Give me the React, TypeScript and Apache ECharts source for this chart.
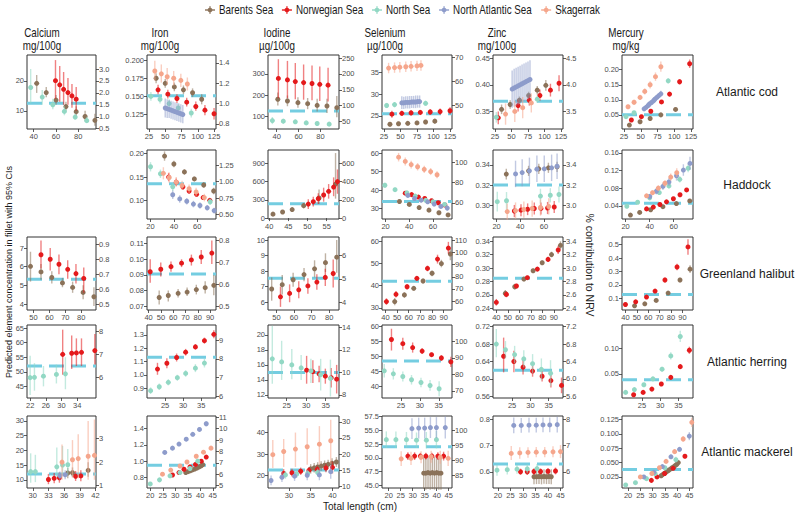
import React, { useEffect, useRef } from "react";
import * as echarts from "echarts";

// ---------- categories ----------
const SEAS = ["Barents Sea", "Norwegian Sea", "North Sea", "North Atlantic Sea", "Skagerrak"];
const SEA_COLORS = ["#8B7259", "#E41A1C", "#92D8C4", "#8E9CCB", "#F5A68C"];
const NRV_COLOR = "#74CDE1";
const ELEMENTS = ["Calcium", "Iron", "Iodine", "Selenium", "Zinc", "Mercury"];
const UNITS = ["mg/100g", "mg/100g", "µg/100g", "µg/100g", "mg/100g", "mg/kg"];
const SPECIES = ["Atlantic cod", "Haddock", "Greenland halibut", "Atlantic herring", "Atlantic mackerel"];

// ---------- predictions: [length, estimate, lower CI, upper CI] ----------
// Atlantic cod
const codCaBS = [[42.7,19.2,16,22],[51.3,16.1,14.5,18],[60.1,13.6,12,15.3],[69,11.4,10,13],[78.2,9.7,8,11.5],[86.2,8.1,6.5,10],[95,6.8,5,9]];
const codCaNO = [[59.6,20.1,14,27],[63.4,18.7,13,25],[66.9,17.2,12,23],[70.8,16.1,12,21],[74.4,15,11,19],[78.2,13.9,10,18]];
const codCaNS = [[37.3,17.8,12.5,24],[47.7,14.6,12,17],[57.2,12,10.5,14],[67.6,9.8,8.5,11.5],[77.3,7.9,7,9],[87.7,6.7,6,8]];

const codFeBS = [[36,0.175,0.168,0.182],[50,0.168,0.162,0.174],[64,0.163,0.157,0.169],[78,0.159,0.153,0.165],[92,0.155,0.149,0.161],[106,0.146,0.139,0.153]];
const codFeNO = [[39,0.159,0.153,0.166],[54,0.153,0.147,0.159],[68,0.147,0.141,0.153],[83,0.142,0.136,0.148],[97,0.136,0.130,0.143],[111,0.131,0.124,0.138],[125,0.126,0.118,0.134]];
const codFeNS = [[28,0.150,0.144,0.156],[42,0.146,0.140,0.152],[56,0.140,0.134,0.146],[70,0.134,0.128,0.140],[90,0.127,0.121,0.133]];
const codFeNA = [[50,0.134,0.121,0.147],[53,0.133,0.120,0.146],[56,0.132,0.120,0.145],[59,0.131,0.119,0.144],[62,0.130,0.118,0.143],[65,0.129,0.117,0.142],[68,0.128,0.116,0.141],[71,0.127,0.115,0.140],[74,0.126,0.114,0.139],[77,0.125,0.113,0.138]];
const codFeSK = [[34,0.185,0.172,0.199],[44,0.181,0.169,0.194],[53,0.177,0.166,0.189],[63,0.175,0.165,0.185],[74,0.172,0.163,0.181],[84,0.167,0.158,0.176]];

const codIBS = [[41,180,150,212],[49.8,172,147,198],[59.4,164,140,190],[68.3,159,133,186],[77,151,122,182],[86,148,115,182],[95,140,95,195]];
const codINO = [[41.5,279,185,370],[49.8,272,185,362],[57,264,180,352],[64.6,259,178,345],[72.3,255,175,340],[79.4,251,172,335],[87,247,170,330]];
const codINS = [[36,79,62,96],[46,76,64,88],[57,73,63,83],[67,68,60,77],[77,65,58,72],[88,62,55,70]];

const codSeBS = [[34,23.1,22.6,23.6],[47,23.2,22.7,23.7],[61,23.3,22.8,23.8],[75,23.4,22.9,23.9],[88,23.6,23.1,24.1],[102,23.8,23.2,24.4]];
const codSeNO = [[37,25.4,24.6,26.2],[52,25.6,25.0,26.2],[66,25.7,25.1,26.3],[80,25.8,25.2,26.4],[95,25.9,25.2,26.6],[110,26.0,25.3,26.7],[125,26.2,25.4,27.0]];
const codSeNS = [[29,27.4,26.8,28.0],[41,27.6,27.0,28.2],[88,27.9,27.3,28.5]];
const codSeNA = [[52,28.0,26.6,29.5],[55,28.0,26.6,29.4],[58,28.1,26.7,29.5],[61,28.1,26.7,29.5],[64,28.1,26.7,29.6],[67,28.2,26.8,29.6],[70,28.2,26.8,29.6],[73,28.2,26.8,29.7],[76,28.3,26.9,29.7],[79,28.3,26.9,29.7]];
const codSeSK = [[32,36.0,34.8,37.2],[41,36.1,34.9,37.3],[49,36.2,35.0,37.4],[58,36.3,35.1,37.5],[66,36.4,35.2,37.6],[75,36.5,35.3,37.7],[81,36.6,35.4,37.8]];

const codZnBS = [[35,0.354,0.345,0.363],[48,0.363,0.355,0.371],[62,0.371,0.364,0.378],[76,0.380,0.373,0.387],[89,0.390,0.382,0.398],[102,0.399,0.389,0.409]];
const codZnNO = [[30,0.338,0.326,0.350],[60,0.361,0.350,0.372],[77,0.371,0.361,0.381],[93,0.380,0.370,0.391],[109,0.390,0.378,0.402],[122,0.403,0.388,0.418]];
const codZnNS = [[27,0.339,0.329,0.349],[89,0.373,0.366,0.380]];
const codZnNA = [[51,0.392,0.357,0.427],[54,0.394,0.359,0.430],[57,0.396,0.361,0.432],[60,0.398,0.363,0.434],[63,0.400,0.365,0.436],[66,0.402,0.367,0.438],[69,0.404,0.369,0.440],[72,0.406,0.371,0.442],[75,0.408,0.373,0.444],[78,0.410,0.375,0.446]];
const codZnSK = [[41,0.345,0.325,0.365],[55,0.350,0.330,0.370],[67,0.357,0.337,0.377],[80,0.366,0.348,0.384]];

const codHgBS = [[33,0.016,0.013,0.019],[49,0.027,0.024,0.030],[64,0.038,0.034,0.042],[80,0.050,0.046,0.054],[102,0.068,0.063,0.073]];
const codHgNO = [[36,0.033,0.029,0.037],[51,0.044,0.040,0.048],[65,0.062,0.057,0.067],[81,0.093,0.087,0.099],[93,0.119,0.112,0.126],[108,0.160,0.151,0.169],[123,0.220,0.206,0.234]];
const codHgNS = [[28,0.044,0.039,0.049],[40,0.057,0.051,0.063],[91,0.163,0.155,0.171]];
const codHgNA = [[55,0.070,0.062,0.078],[58,0.075,0.067,0.083],[61,0.081,0.073,0.089],[63,0.086,0.078,0.094],[66,0.091,0.083,0.099],[69,0.097,0.088,0.106],[71,0.102,0.093,0.111],[74,0.108,0.099,0.117],[77,0.114,0.105,0.123],[80,0.120,0.110,0.130]];
const codHgSK = [[31,0.077,0.070,0.084],[40,0.092,0.084,0.100],[49,0.108,0.099,0.117],[56,0.128,0.118,0.138],[64,0.150,0.138,0.162],[72,0.177,0.163,0.191],[80,0.210,0.193,0.227]];

// Haddock
const hadFeBS = [[32,0.195,0.185,0.205],[40,0.178,0.171,0.185],[49,0.161,0.155,0.167],[57.5,0.146,0.141,0.151],[65.5,0.133,0.127,0.139],[74,0.120,0.113,0.127]];
const hadFeNO = [[35.5,0.150,0.141,0.159],[42,0.139,0.131,0.147],[47.7,0.129,0.122,0.136],[53,0.120,0.114,0.126],[59.4,0.113,0.108,0.118],[65,0.106,0.101,0.111],[70.7,0.100,0.095,0.105]];
const hadFeNS = [[20,0.172,0.162,0.182],[28.5,0.157,0.148,0.166],[39,0.129,0.120,0.138],[71,0.097,0.090,0.104]];
const hadFeNA = [[39,0.112,0.103,0.121],[45,0.103,0.095,0.111],[51,0.098,0.091,0.105],[56.7,0.092,0.085,0.099],[62.3,0.089,0.082,0.096],[68.5,0.084,0.078,0.090],[74.4,0.078,0.072,0.084]];
const hadFeSK = [[31,0.158,0.145,0.171],[36,0.149,0.138,0.160],[42,0.139,0.129,0.150],[47,0.132,0.122,0.142],[53,0.125,0.116,0.134],[59,0.118,0.109,0.127],[66,0.106,0.098,0.114]];

const hadIBS = [[41,65,45,90],[43.5,100,75,125],[46,140,110,170],[49,205,160,250],[53,330,230,470],[57.3,560,320,1070]];
const hadINO = [[50.2,230,150,310],[51.5,270,190,350],[52.8,320,230,410],[54.2,380,270,500],[55.5,440,320,560],[56.8,510,360,670],[57.8,600,400,800]];

const hadSeBS = [[31.7,33.8,33.1,34.5],[40,32.2,31.5,32.9],[48.3,30.5,29.8,31.2],[56.6,29.1,28.4,29.8],[65,27.7,27,28.4],[72.7,26.5,25.7,27.3]];
const hadSeNO = [[36.6,38.3,37.5,39.1],[42,37.5,36.8,38.2],[47.7,36.2,35.5,36.9],[53,35.4,34.7,36.1],[58.8,34.2,33.5,34.9],[64.4,33.1,32.4,33.8],[70,31.9,31.1,32.7]];
const hadSeNS = [[19.4,42.6,41.3,43.9],[28,40.2,39,41.4],[38,38.5,37.5,39.5],[45,36.7,35.7,37.7],[53.9,34.4,33.4,35.4],[60,33.6,32.5,34.7],[69.7,32.2,30.9,33.5]];
const hadSeNA = [[38.8,37.1,35.8,38.4],[44.4,35.4,34.2,36.6],[50,34.5,33.3,35.7],[55.5,33.6,32.4,34.8],[61,32.4,31.2,33.6],[66.6,31.1,29.9,32.3],[72,30.2,28.9,31.5]];
const hadSeSK = [[31,57.8,55.5,60.1],[36.6,55.5,53.3,57.7],[41.6,53.8,51.7,55.9],[47,52.6,50.6,54.6],[52.6,51.2,49.3,53.1],[58,50,48.1,51.9],[63.4,48.3,46.4,50.2]];

const hadZnBS = [[28.2,0.3308,0.3255,0.336],[47,0.334,0.329,0.339],[55.6,0.336,0.331,0.341],[63.7,0.337,0.332,0.342],[71,0.338,0.333,0.343]];
const hadZnNO = [[35,0.2946,0.2885,0.3005],[40.6,0.2954,0.2895,0.3013],[46.2,0.2963,0.2905,0.302],[51.8,0.297,0.2912,0.3028],[57.4,0.2971,0.2912,0.3029],[63,0.2975,0.2915,0.3035],[68.6,0.2985,0.2925,0.3045]];
const hadZnNS = [[20.6,0.3037,0.294,0.3135],[28.4,0.3046,0.296,0.3132],[57,0.3092,0.302,0.3164],[65.3,0.31,0.303,0.317],[72.6,0.3108,0.303,0.3186]];
const hadZnNA = [[36,0.331,0.318,0.344],[41.6,0.3323,0.319,0.3455],[47.7,0.334,0.321,0.347],[54,0.3357,0.323,0.349],[60.2,0.336,0.323,0.349],[66.4,0.337,0.324,0.35],[71,0.3385,0.326,0.351]];
const hadZnSK = [[29,0.294,0.286,0.302],[36,0.295,0.287,0.303],[43,0.296,0.288,0.304],[50,0.297,0.289,0.305],[57,0.298,0.29,0.306],[64,0.299,0.291,0.307]];

const hadHgBS = [[24,0.019,0.017,0.021],[31.7,0.025,0.023,0.027],[40.8,0.031,0.029,0.033],[51,0.038,0.036,0.040],[62.2,0.045,0.043,0.047],[73.3,0.051,0.049,0.053]];
const hadHgNO = [[37.4,0.033,0.031,0.035],[43,0.037,0.035,0.039],[48.5,0.043,0.041,0.045],[54,0.049,0.047,0.051],[59.7,0.056,0.054,0.058],[65.2,0.065,0.062,0.068],[70.7,0.076,0.073,0.079]];
const hadHgNS = [[21,0.039,0.036,0.042],[30,0.048,0.045,0.051],[40,0.058,0.054,0.062],[48,0.070,0.065,0.075],[56,0.085,0.079,0.091],[65,0.100,0.093,0.107],[72,0.125,0.116,0.134]];
const hadHgNA = [[40,0.061,0.055,0.067],[45.6,0.073,0.066,0.080],[51,0.084,0.076,0.092],[56,0.094,0.085,0.103],[62.3,0.108,0.097,0.119],[68,0.121,0.108,0.134],[73.5,0.136,0.121,0.151]];
const hadHgSK = [[37.4,0.0626,0.058,0.067],[42.4,0.0697,0.064,0.075],[47.2,0.080,0.074,0.086],[52.7,0.091,0.084,0.098],[57.5,0.105,0.097,0.113],[62.5,0.115,0.105,0.125]];

// Greenland halibut
const halCaBS = [[48.1,6.02,5.2,6.8],[54.7,5.72,5.3,6.15],[61.5,5.42,5.1,5.75],[68.2,5.13,4.9,5.4],[74.6,4.89,4.6,5.2],[81.2,4.62,4.25,5.0],[88,4.39,3.9,4.9]];
const halCaNO = [[54.7,6.64,5.9,7.4],[60.5,6.4,5.8,7.0],[66,6.13,5.6,6.65],[71.5,5.86,5.35,6.35],[76.7,5.63,5.1,6.15],[81.6,5.37,4.6,5.95]];

const halFeBS = [[48.6,0.0755,0.071,0.080],[56,0.0768,0.073,0.080],[64,0.0782,0.0755,0.081],[71.3,0.079,0.0765,0.082],[78.8,0.0806,0.0775,0.0837],[86,0.0818,0.078,0.086],[93,0.0833,0.077,0.090]];
const halFeNO = [[41.3,0.092,0.085,0.100],[49.9,0.0936,0.089,0.098],[58.2,0.0953,0.092,0.0986],[66.8,0.0975,0.095,0.100],[74.8,0.0996,0.096,0.103],[82.8,0.1015,0.097,0.106],[91.4,0.104,0.097,0.112]];

const halIBS = [[47.3,6.85,6.1,7.6],[53.3,7.13,6.5,7.75],[59.5,7.45,7.0,7.9],[65.7,7.78,7.35,8.2],[71.7,8.15,7.6,8.7],[77.9,8.55,7.95,9.15],[84.3,8.9,7.9,10.0]];
const halINO = [[52.3,6.35,5.7,7.0],[57.5,6.57,6.0,7.15],[62.7,6.8,6.25,7.35],[67.9,7.05,6.55,7.55],[73,7.3,6.8,7.8],[77.8,7.6,7.05,8.15],[82.3,7.85,6.95,8.75]];

const halSeBS = [[48,32.8,31.2,34.4],[56.3,35.8,34.5,37.1],[64.3,38.8,37.8,39.8],[72.3,42.1,41,43.2],[80,45.6,44.3,46.9],[88,50,48.3,51.7],[95.7,54.3,51.5,57.1]];
const halSeNO = [[40.9,32.8,31.3,34.3],[49.1,36.1,34.6,37.6],[58.6,39.5,38.3,40.7],[67,43.3,42.3,44.3],[76.1,47.8,46.5,49.1],[84.7,52,50,54],[94,57,54.5,59.8]];

const halZnBS = [[47.8,0.2623,0.257,0.2675],[56,0.2722,0.268,0.2765],[64,0.2836,0.2805,0.2867],[72,0.296,0.293,0.299],[79.9,0.308,0.3045,0.3115],[88,0.3202,0.316,0.3245],[95.8,0.334,0.328,0.340]];
const halZnNO = [[40,0.249,0.244,0.254],[48.8,0.2608,0.2565,0.265],[57.5,0.2733,0.270,0.2765],[67,0.2857,0.283,0.2885],[75.7,0.2985,0.2955,0.3015],[85,0.313,0.309,0.317],[93.8,0.327,0.321,0.333]];

const halHgBS = [[48,0.045,0.037,0.053],[57,0.06,0.052,0.068],[67,0.085,0.076,0.094],[77.5,0.14,0.128,0.152],[87.9,0.237,0.22,0.254],[96.7,0.318,0.29,0.346]];
const halHgNO = [[40,0.055,0.045,0.065],[49,0.075,0.064,0.086],[58.5,0.11,0.098,0.122],[66,0.155,0.143,0.167],[74.7,0.237,0.218,0.256],[85.3,0.334,0.31,0.358],[94.9,0.483,0.425,0.54]];

// Atlantic herring
const herCaNO = [[30.3,56,49,64.5],[32.6,56.4,51,62.5],[33.8,56.5,52,61.5],[35.1,56.7,52,61.5],[38.5,57.3,52.5,63]];
const herCaNS = [[22,48,42,55.5],[23.1,48.1,43.5,53],[25.4,48.5,45,52],[28.7,49.1,46,52.5],[31,49.3,44,55]];

const herFeNO = [[22.9,1.043,1.0,1.09],[25.5,1.087,1.05,1.125],[28.2,1.13,1.1,1.16],[30.7,1.17,1.145,1.195],[33.4,1.21,1.19,1.23],[35.9,1.257,1.235,1.28],[38.5,1.305,1.275,1.335]];
const herFeNS = [[21,0.88,0.855,0.905],[23.4,0.91,0.885,0.935],[25.9,0.943,0.92,0.966],[28.4,0.978,0.955,1.0],[30.7,1.01,0.985,1.035],[33.4,1.05,1.02,1.08],[35.9,1.088,1.055,1.12]];

const herINO = [[30.1,15.3,13.5,17.2],[31.7,15.1,13.6,16.6],[33.3,14.8,13.7,15.9],[34.9,14.5,13.5,15.5],[36.4,14.3,13,15.6],[37.8,14.1,12.2,16]];
const herINS = [[21.3,16.8,13.5,21.2],[23.7,16.4,14,19.2],[26.3,16,14.1,18.1],[28.7,15.6,14,17.3],[31.2,15.2,13.6,16.8],[33.7,14.7,12.6,16.8],[36.2,14.2,11.8,16.7]];

const herSeNO = [[22.5,55.7,52,59.3],[25.5,54.3,52.3,56.3],[28.1,53,51.3,54.7],[30.6,51.8,50.8,52.8],[33.1,50.6,49.9,51.3],[35.7,49.5,48.5,50.5],[38.2,48.2,46.5,49.9]];
const herSeNS = [[20.6,45.2,43,47.5],[23,44.2,42.3,46.1],[25.5,43.3,41.6,45],[27.8,42.2,40.6,43.8],[30.3,41.3,39.7,42.9],[32.7,40.3,38.5,42.1],[35.1,39.2,36.7,41.7]];

const herZnNO = [[22.7,0.652,0.615,0.695],[25.5,0.64,0.615,0.665],[28,0.627,0.61,0.644],[30.6,0.618,0.605,0.631],[33.2,0.606,0.594,0.618],[35.6,0.596,0.58,0.612],[38.5,0.585,0.567,0.603]];
const herZnNS = [[20.7,0.68,0.65,0.715],[23.2,0.667,0.647,0.687],[25.7,0.656,0.636,0.676],[28.2,0.646,0.626,0.666],[30.6,0.635,0.613,0.657],[33,0.622,0.597,0.647],[35.5,0.613,0.583,0.643]];

const herHgNO = [[22.7,0.009,0.007,0.011],[25.3,0.0136,0.011,0.016],[27.7,0.02,0.018,0.022],[30.3,0.03,0.027,0.033],[32.9,0.043,0.04,0.046],[35.5,0.064,0.06,0.068],[38,0.096,0.089,0.103]];
const herHgNS = [[20.5,0.0136,0.011,0.016],[22.9,0.019,0.016,0.022],[25.5,0.0286,0.025,0.032],[28,0.04,0.036,0.044],[30.5,0.059,0.054,0.064],[32.9,0.085,0.078,0.092],[35.5,0.123,0.112,0.134]];

// Atlantic mackerel
const makCaBS = [[36.7,12.3,10.5,14],[37.6,12.4,10.8,14.2],[40.6,13.2,11,16]];
const makCaNO = [[33,10.1,8.5,12],[34.1,10.5,8.8,12.3],[35.1,10.7,9,12.5],[38.2,11.2,9.6,13],[39.2,11.3,9.5,13.2]];
const makCaNS = [[29.6,12.8,9,19],[30.5,12.8,9.2,18.5],[34.6,14.4,11,21],[35.7,15,11.5,21.5],[36.7,15.1,11.5,20.5]];
const makCaNA = [[35.2,11.4,10,12.8],[36.2,11.7,10.2,13.2]];
const makCaSK = [[35.6,16,10,22],[37.6,16.8,11,23.5],[38.7,17.2,10.5,25.5],[40.6,18,10,30],[41.8,18.3,10,30.5]];

const makFeBS = [[34.2,0.860,0.838,0.882],[35.1,0.871,0.849,0.893],[36.0,0.881,0.859,0.903],[36.9,0.892,0.870,0.914],[37.8,0.903,0.881,0.925],[38.7,0.915,0.892,0.938],[39.6,0.929,0.906,0.952],[40.4,0.943,0.919,0.967],[41.0,0.957,0.932,0.982]];
const makFeNO = [[28.9,0.83,0.81,0.85],[31.5,0.86,0.84,0.88],[33.5,0.9,0.88,0.92],[35.9,0.93,0.91,0.95],[38.1,0.96,0.94,0.98],[40.4,1.0,0.98,1.02],[42.4,1.05,1.03,1.07]];
const makFeNS = [[20,0.72,0.70,0.74],[23.7,0.77,0.75,0.79],[27.9,0.82,0.80,0.84],[31.9,0.86,0.84,0.88],[35.9,0.91,0.89,0.93],[39,1.0,0.97,1.03]];
const makFeNA = [[25.8,1.107,1.08,1.135],[28.9,1.16,1.135,1.185],[31.5,1.21,1.185,1.235],[34.4,1.27,1.245,1.295],[37,1.33,1.305,1.355],[39.7,1.39,1.36,1.42],[42.4,1.46,1.43,1.49]];
const makFeSK = [[24.9,0.84,0.82,0.86],[28.2,0.89,0.87,0.91],[31.9,0.94,0.92,0.96],[34.7,0.99,0.97,1.01],[38.4,1.06,1.04,1.08],[41.3,1.11,1.09,1.13],[44.3,1.16,1.14,1.18]];

const makIBS = [[35.0,23.1,20.9,25.3],[35.8,23.6,21.4,25.8],[36.6,24.0,21.8,26.2],[37.4,24.4,22.2,26.6],[38.2,24.8,22.6,27.0],[39.0,25.2,23.0,27.4],[39.9,25.7,23.4,28.0],[40.9,26.3,24.0,28.6]];
const makINO = [[28.8,21,19,23],[30.7,21.3,19.5,23.1],[32.7,22,20.3,23.7],[34.6,22.4,20.8,24],[36.5,22.8,21,24.6],[38.5,23.5,21.5,25.5],[40,23.8,21,26.5]];
const makINS = [[29.2,20.3,18.5,22.1],[31.8,20.7,19,22.4],[34.3,21,19.3,22.7],[36.6,21.4,19.6,23.2]];
const makINA = [[25.9,17.7,15.5,20],[28.4,19.2,17,21.5],[31.3,19.7,17.5,22],[34.2,20.1,17.8,22.5],[37,20.3,17.8,22.8],[39.6,21.8,18.5,25]];
const makISK = [[26.3,29.7,23.5,36.5],[28.8,31.2,24,37],[31.5,32.3,24,40],[34.2,33.4,25,42],[37,34.6,25,43],[39.6,36.2,25.5,46]];

const makSeBS = [[34.6,47.2,44.3,50.2],[35.5,47.2,44.2,50.2],[36.4,47.3,44.3,50.3],[37.3,47.2,44.2,50.2],[38.2,47.3,44.3,50.3],[39.1,47.2,44.2,50.2],[40.0,47.3,44.3,50.3],[40.9,47.2,44.2,50.2],[41.8,47.2,44.2,50.2]];
const makSeNO = [[28,50.3,49.6,51],[30.8,50.3,49.6,51],[33.2,50.3,49.7,50.9],[35.5,50.3,49.7,50.9],[38,50.3,49.7,50.9],[40.5,50.3,49.6,51],[42.9,50.3,49.5,51.1]];
const makSeNS = [[19,53.3,51.8,54.8],[23,53.3,51.8,54.8],[27.4,53.3,51.9,54.7],[31.6,53.2,51.8,54.6],[35.7,53.2,51.7,54.7],[39.9,53.3,51.7,54.9]];
const makSeNA = [[29.7,55.3,53.4,57.2],[32.5,55.4,53.5,57.3],[35,55.4,53.5,57.3],[37.4,55.5,53.6,57.4],[39.9,55.5,53.6,57.4],[43.6,55.5,53.5,57.5]];
const makSeSK = [[25.2,49.8,48.5,51.2],[29.3,49.9,48.7,51.1],[33.5,50.1,49,51.2],[37.7,50.2,49.1,51.3],[41.5,50.1,48.9,51.3],[44.8,49.9,48.5,51.3]];

const makZnBS = [[34.4,0.581,0.552,0.610],[35.4,0.581,0.553,0.609],[36.4,0.582,0.553,0.611],[37.4,0.581,0.552,0.610],[38.4,0.582,0.554,0.610],[39.4,0.581,0.553,0.609],[40.4,0.582,0.553,0.611],[41.3,0.581,0.552,0.610]];
const makZnNO = [[29,0.6,0.588,0.612],[31.7,0.6,0.588,0.612],[34.4,0.601,0.589,0.613],[37,0.601,0.589,0.613],[40,0.602,0.59,0.614],[43,0.603,0.59,0.616]];
const makZnNS = [[19.6,0.606,0.585,0.627],[23.7,0.608,0.59,0.626],[27.6,0.61,0.592,0.628],[31.7,0.611,0.594,0.628],[35.6,0.612,0.594,0.63]];
const makZnNA = [[26.3,0.777,0.747,0.807],[29.3,0.777,0.749,0.805],[32.4,0.778,0.75,0.806],[35.3,0.778,0.75,0.806],[38,0.779,0.751,0.807],[40.7,0.779,0.751,0.807],[43.7,0.78,0.75,0.81]];
const makZnSK = [[25.3,0.67,0.645,0.698],[28.7,0.672,0.65,0.694],[32,0.674,0.654,0.694],[35.3,0.675,0.655,0.695],[38.7,0.675,0.655,0.695],[42,0.676,0.655,0.697],[45,0.677,0.652,0.702]];

const makHgBS = [[33.5,0.027,0.025,0.029],[34.1,0.029,0.027,0.031],[34.8,0.031,0.029,0.033],[35.4,0.033,0.031,0.035],[36.1,0.035,0.033,0.037],[36.7,0.037,0.035,0.039],[37.4,0.039,0.037,0.041],[38.0,0.041,0.039,0.043],[38.7,0.043,0.041,0.045],[39.3,0.045,0.043,0.047],[39.9,0.047,0.045,0.049],[40.5,0.05,0.048,0.052]];
const makHgNO = [[29.5,0.019,0.017,0.021],[31.8,0.025,0.023,0.027],[34.9,0.031,0.029,0.033],[38.4,0.04,0.038,0.042],[43.2,0.061,0.058,0.064]];
const makHgNS = [[19,0.011,0.009,0.013],[23,0.015,0.013,0.017],[27.5,0.022,0.02,0.024],[31,0.031,0.028,0.034],[35,0.041,0.038,0.044],[39.5,0.055,0.05,0.06]];
const makHgNA = [[26.4,0.025,0.023,0.027],[30.5,0.033,0.03,0.036],[34,0.043,0.04,0.046],[37.5,0.06,0.056,0.064],[41,0.073,0.069,0.077],[45,0.096,0.089,0.103]];
const makHgSK = [[25,0.025,0.023,0.027],[29.7,0.031,0.028,0.034],[32.8,0.041,0.038,0.044],[35.5,0.052,0.049,0.055],[39,0.069,0.065,0.073],[42.5,0.091,0.086,0.096],[46,0.12,0.112,0.128]];

// ---------- NRV conversion factors (% of NRV per unit) ----------
const K_CA = 1 / 8;
const K_FE = 100 / 14;
const K_I = 100 / 150;
const K_SE = 100 / 55;
const K_ZN = 10;

type Pts = number[][];
interface Panel {
  row: number; col: number;
  x: number[]; xt: number[];
  y: number[]; yt: string[];
  k?: number; rt?: string[];
  ref: number;
  s: Pts[]; // Barents, Norwegian, North Sea, North Atlantic, Skagerrak
}
const E: Pts = [];
const X_COD = [25, 50, 75, 100, 125];
const X_HAD = [20, 40, 60];
const X_MAK = [20, 25, 30, 35, 40, 45];

const PANELS: Panel[] = [
  // Atlantic cod
  { row: 0, col: 0, x: [34, 96], xt: [40, 60, 80], y: [3.9, 28.7], yt: ["10", "20"], k: K_CA, rt: ["0.5", "1.0", "1.5", "2.0", "2.5", "3.0"], ref: 12.5, s: [codCaBS, codCaNO, codCaNS, E, E] },
  { row: 0, col: 1, x: [22, 128], xt: X_COD, y: [0.105, 0.207], yt: ["0.125", "0.150", "0.175", "0.200"], k: K_FE, rt: ["0.8", "1.0", "1.2", "1.4"], ref: 0.151, s: [codFeBS, codFeNO, codFeNS, codFeNA, codFeSK] },
  { row: 0, col: 2, x: [32, 97], xt: [40, 60, 80], y: [39, 390], yt: ["100", "200", "300"], k: K_I, rt: ["50", "100", "150", "200", "250"], ref: 124, s: [codIBS, codINO, codINS, E, E] },
  { row: 0, col: 3, x: [22, 128], xt: X_COD, y: [22, 39], yt: ["25", "30", "35"], k: K_SE, rt: ["50", "60", "70"], ref: 25.5, s: [codSeBS, codSeNO, codSeNS, codSeNA, codSeSK] },
  { row: 0, col: 4, x: [22, 128], xt: X_COD, y: [0.317, 0.456], yt: ["0.35", "0.40", "0.45"], k: K_ZN, rt: ["3.5", "4.0", "4.5"], ref: 0.369, s: [codZnBS, codZnNO, codZnNS, codZnNA, codZnSK] },
  { row: 0, col: 5, x: [22, 128], xt: X_COD, y: [0.003, 0.249], yt: ["0.05", "0.10", "0.15", "0.20"], ref: 0.05, s: [codHgBS, codHgNO, codHgNS, codHgNA, codHgSK] },
  // Haddock
  { row: 1, col: 1, x: [17, 76], xt: X_HAD, y: [0.06, 0.208], yt: ["0.10", "0.15", "0.20"], k: K_FE, rt: ["0.50", "0.75", "1.00", "1.25", "1.50"], ref: 0.1356, s: [hadFeBS, hadFeNO, hadFeNS, hadFeNA, hadFeSK] },
  { row: 1, col: 2, x: [39.7, 58.2], xt: [40, 45, 50, 55], y: [-15, 1120], yt: ["0", "300", "600", "900"], k: K_I, rt: ["0", "200", "400", "600"], ref: 235, s: [hadIBS, hadINO, E, E, E] },
  { row: 1, col: 3, x: [17, 76], xt: X_HAD, y: [24.3, 61.7], yt: ["30", "40", "50", "60"], k: K_SE, rt: ["60", "80", "100"], ref: 33.8, s: [hadSeBS, hadSeNO, hadSeNS, hadSeNA, hadSeSK] },
  { row: 1, col: 4, x: [17, 76], xt: X_HAD, y: [0.2867, 0.3545], yt: ["0.30", "0.32", "0.34"], k: K_ZN, rt: ["3.0", "3.2", "3.4"], ref: 0.32, s: [hadZnBS, hadZnNO, hadZnNS, hadZnNA, hadZnSK] },
  { row: 1, col: 5, x: [17, 76], xt: X_HAD, y: [0.0101, 0.1664], yt: ["0.04", "0.08", "0.12", "0.16"], ref: 0.0457, s: [hadHgBS, hadHgNO, hadHgNS, hadHgNA, hadHgSK] },
  // Greenland halibut
  { row: 2, col: 0, x: [45.9, 89.3], xt: [50, 60, 70, 80], y: [3.68, 7.59], yt: ["4", "5", "6", "7"], k: K_CA, rt: ["0.5", "0.6", "0.7", "0.8", "0.9"], ref: 5.33, s: [halCaBS, halCaNO, E, E, E] },
  { row: 2, col: 1, x: [38.7, 94.8], xt: [40, 50, 60, 70, 80, 90], y: [0.0675, 0.1143], yt: ["0.07", "0.08", "0.09", "0.10", "0.11"], k: K_FE, rt: ["0.5", "0.6", "0.7", "0.8"], ref: 0.0906, s: [halFeBS, halFeNO, E, E, E] },
  { row: 2, col: 2, x: [45.2, 85.6], xt: [50, 60, 70, 80], y: [5.5, 10.2], yt: ["6", "7", "8", "9", "10"], k: K_I, rt: ["4", "5", "6"], ref: 7.55, s: [halIBS, halINO, E, E, E] },
  { row: 2, col: 3, x: [37.1, 97.1], xt: [40, 50, 60, 70, 80, 90], y: [29, 62], yt: ["30", "40", "50", "60"], k: K_SE, rt: ["60", "70", "80", "90", "100", "110"], ref: 42, s: [halSeBS, halSeNO, E, E, E] },
  { row: 2, col: 4, x: [37.1, 98], xt: [40, 50, 60, 70, 80, 90], y: [0.2375, 0.3464], yt: ["0.24", "0.26", "0.28", "0.30", "0.32", "0.34"], k: K_ZN, rt: ["2.4", "2.6", "2.8", "3.0", "3.2", "3.4"], ref: 0.285, s: [halZnBS, halZnNO, E, E, E] },
  { row: 2, col: 5, x: [37, 99.3], xt: [40, 50, 60, 70, 80, 90], y: [0.014, 0.557], yt: ["0.1", "0.2", "0.3", "0.4", "0.5"], ref: 0.13, s: [halHgBS, halHgNO, E, E, E] },
  // Atlantic herring
  { row: 3, col: 0, x: [21.2, 38.8], xt: [22, 26, 30, 34], y: [41, 66.1], yt: ["45", "50", "55", "60", "65"], k: K_CA, rt: ["6", "7", "8"], ref: 52, s: [E, herCaNO, herCaNS, E, E] },
  { row: 3, col: 1, x: [20, 39.1], xt: [25, 30, 35], y: [0.825, 1.375], yt: ["0.9", "1.0", "1.1", "1.2", "1.3"], k: K_FE, rt: ["6", "7", "8", "9"], ref: 1.1325, s: [E, herFeNO, herFeNS, E, E] },
  { row: 3, col: 2, x: [20.2, 38.4], xt: [25, 30, 35], y: [11.6, 21.3], yt: ["12", "14", "16", "18", "20"], k: K_I, rt: ["8", "10", "12", "14"], ref: 15, s: [E, herINO, herINS, E, E] },
  { row: 3, col: 3, x: [20, 38.5], xt: [25, 30, 35], y: [36.1, 60.55], yt: ["40", "45", "50", "55", "60"], k: K_SE, rt: ["70", "80", "90", "100"], ref: 48.5, s: [E, herSeNO, herSeNS, E, E] },
  { row: 3, col: 4, x: [19.8, 38.9], xt: [25, 30, 35], y: [0.556, 0.724], yt: ["0.56", "0.60", "0.64", "0.68", "0.72"], k: K_ZN, rt: ["5.6", "6.0", "6.4", "6.8", "7.2"], ref: 0.62, s: [E, herZnNO, herZnNS, E, E] },
  { row: 3, col: 5, x: [19.5, 39], xt: [25, 30, 35], y: [0.0026, 0.1455], yt: ["0.05", "0.10"], ref: 0.0383, s: [E, herHgNO, herHgNS, E, E] },
  // Atlantic mackerel
  { row: 4, col: 0, x: [28.9, 42.1], xt: [30, 33, 36, 39, 42], y: [7.2, 31.7], yt: ["10", "15", "20", "25", "30"], k: K_CA, rt: ["1", "2", "3"], ref: 12, s: [makCaBS, makCaNO, makCaNS, makCaNA, makCaSK] },
  { row: 4, col: 1, x: [18.7, 46.3], xt: X_MAK, y: [0.67, 1.555], yt: ["0.8", "1.0", "1.2", "1.4"], k: K_FE, rt: ["5", "6", "7", "8", "9", "10", "11"], ref: 0.95, s: [makFeBS, makFeNO, makFeNS, makFeNA, makFeSK] },
  { row: 4, col: 2, x: [25.2, 41.5], xt: [30, 35, 40], y: [14.2, 47.7], yt: ["20", "30", "40"], k: K_I, rt: ["10", "15", "20", "25", "30"], ref: 22.6, s: [makIBS, makINO, makINS, makINA, makISK] },
  { row: 4, col: 3, x: [17.2, 46.4], xt: X_MAK, y: [44.5, 57.6], yt: ["45.0", "47.5", "50.0", "52.5", "55.0", "57.5"], k: K_SE, rt: ["85", "90", "95", "100", "105"], ref: 52, s: [makSeBS, makSeNO, makSeNS, makSeNA, makSeSK] },
  { row: 4, col: 4, x: [18, 46], xt: X_MAK, y: [0.538, 0.813], yt: ["0.6", "0.7", "0.8"], k: K_ZN, rt: ["6", "7", "8"], ref: 0.63, s: [makZnBS, makZnNO, makZnNS, makZnNA, makZnSK] },
  { row: 4, col: 5, x: [17.5, 46.5], xt: X_MAK, y: [0.0057, 0.131], yt: ["0.025", "0.050", "0.075", "0.100", "0.125"], ref: 0.038, s: [makHgBS, makHgNO, makHgNS, makHgNA, makHgSK] },
];

// ---------- layout (px) ----------
const COL_X = [[27, 96], [147, 216], [268, 339], [382, 452], [493, 563], [622, 693]];
const ROW_Y = [[55, 129], [150, 219], [237, 310], [325, 398], [416, 488]];
const HEADER_X = [42, 160, 277, 385, 497, 626];
const FONT = "Liberation Sans, Arial, sans-serif";
const CONDENSE = 0.82; // horizontal squeeze for the condensed-looking titles
const TICK_LABEL = { fontSize: 7.5, color: "#4D4D4D", fontFamily: FONT };
const TICK = { show: true, length: 3, lineStyle: { color: "#333333", width: 0.8 } };

const decimals = (t: string[]) => (t[0].split(".")[1] || "").length;

const measure = (text: string, size: number) => {
  const ctx = document.createElement("canvas").getContext("2d");
  if (!ctx) return text.length * size * 0.5;
  ctx.font = `${size}px ${FONT}`;
  return ctx.measureText(text).width;
};

const pointRange = (color: string) => (_params: any, api: any) => {
  const x = api.value(0);
  const p = api.coord([x, api.value(1)]);
  const a = api.coord([x, api.value(2)]);
  const b = api.coord([x, api.value(3)]);
  return {
    type: "group",
    children: [
      { type: "line", shape: { x1: a[0], y1: a[1], x2: b[0], y2: b[1] }, style: { stroke: color, lineWidth: 1.4, opacity: 0.55 } },
      { type: "circle", shape: { cx: p[0], cy: p[1], r: 2.5 }, style: { fill: color } },
    ],
  };
};

function buildOption() {
  const grid: any[] = [];
  const xAxis: any[] = [];
  const yAxis: any[] = [];
  const series: any[] = [];
  const graphic: any[] = [];

  PANELS.forEach((p, i) => {
    const [l, r] = COL_X[p.col];
    const [t, b] = ROW_Y[p.row];
    grid.push({ left: l, top: t, width: r - l, height: b - t, show: true, borderColor: "#333333", borderWidth: 1, backgroundColor: "#ffffff" });
    xAxis.push({
      gridIndex: i, type: "value", min: p.x[0], max: p.x[1],
      axisLine: { show: false }, splitLine: { show: false },
      axisTick: { ...TICK, customValues: p.xt },
      axisLabel: { ...TICK_LABEL, margin: 3, customValues: p.xt, formatter: (v: number) => String(v) },
    });
    const yi = yAxis.length;
    const yd = decimals(p.yt);
    const yv = p.yt.map(Number);
    yAxis.push({
      gridIndex: i, type: "value", position: "left", min: p.y[0], max: p.y[1],
      axisLine: { show: false }, splitLine: { show: false },
      axisTick: { ...TICK, customValues: yv },
      axisLabel: { ...TICK_LABEL, margin: 3, customValues: yv, formatter: (v: number) => v.toFixed(yd) },
    });
    if (p.k && p.rt) {
      const rd = decimals(p.rt);
      const rv = p.rt.map(Number);
      yAxis.push({
        gridIndex: i, type: "value", position: "right", min: p.y[0] * p.k, max: p.y[1] * p.k,
        axisLine: { show: false }, splitLine: { show: false },
        axisTick: { ...TICK, customValues: rv },
        axisLabel: { ...TICK_LABEL, margin: 3, customValues: rv, formatter: (v: number) => v.toFixed(rd) },
      });
    }
    series.push({
      type: "line", xAxisIndex: i, yAxisIndex: yi, silent: true, symbol: "none", z: 2,
      data: [[p.x[0], p.ref], [p.x[1], p.ref]],
      lineStyle: { color: NRV_COLOR, width: 3, type: [15, 7], cap: "butt" },
    });
    p.s.forEach((pts, si) => {
      if (!pts.length) return;
      series.push({
        type: "custom", xAxisIndex: i, yAxisIndex: yi, silent: true, z: 3 + si, clip: false,
        name: SEAS[si], data: pts, encode: { x: 0, y: 1 },
        renderItem: pointRange(SEA_COLORS[si]),
      });
    });
  });

  // legend, centred on the figure between x = 205 and x = 600
  const KEY = 14, SPAN_L = 205, SPAN_R = 600;
  const widths = SEAS.map((s) => measure(s, 12) * CONDENSE);
  const textSum = widths.reduce((a, b) => a + b, 0);
  const gap = Math.max(6, (SPAN_R - SPAN_L - SEAS.length * KEY - textSum) / (SEAS.length - 1));
  let lx = (SPAN_L + SPAN_R) / 2 - (SEAS.length * KEY + textSum + gap * (SEAS.length - 1)) / 2;
  SEAS.forEach((name, i) => {
    const cx = lx + 5;
    const cy = 10;
    const c = SEA_COLORS[i];
    graphic.push({ type: "line", shape: { x1: cx - 5, y1: cy, x2: cx + 5, y2: cy }, style: { stroke: c, lineWidth: 1.4 } });
    graphic.push({ type: "line", shape: { x1: cx, y1: cy - 4, x2: cx, y2: cy + 4 }, style: { stroke: c, lineWidth: 1.4, opacity: 0.7 } });
    graphic.push({ type: "circle", shape: { cx, cy, r: 2.4 }, style: { fill: c } });
    graphic.push({ type: "text", x: lx + KEY, y: cy, scaleX: CONDENSE, style: { text: name, fontSize: 12, fontFamily: FONT, fill: "#1a1a1a", textVerticalAlign: "middle" } });
    lx += KEY + widths[i] + gap;
  });

  // column headers
  ELEMENTS.forEach((el, c) => {
    const cx = HEADER_X[c];
    graphic.push({ type: "text", x: cx, y: 33, scaleX: CONDENSE, style: { text: el, fontSize: 12, fontFamily: FONT, fill: "#1a1a1a", textAlign: "center", textVerticalAlign: "middle" } });
    graphic.push({ type: "text", x: cx, y: 46, scaleX: CONDENSE, style: { text: UNITS[c], fontSize: 12, fontFamily: FONT, fill: "#1a1a1a", textAlign: "center", textVerticalAlign: "middle" } });
  });

  // row labels
  SPECIES.forEach((sp, r) => {
    const cy = (ROW_Y[r][0] + ROW_Y[r][1]) / 2;
    graphic.push({ type: "text", x: 747, y: cy, style: { text: sp, fontSize: 12, fontFamily: FONT, fill: "#1a1a1a", textAlign: "center", textVerticalAlign: "middle" } });
  });

  // axis titles
  graphic.push({ type: "text", x: 9, y: 272, rotation: Math.PI / 2, style: { text: "Predicted element concentration in fillet with 95% CIs", fontSize: 9, fontFamily: FONT, fill: "#1a1a1a", textAlign: "center", textVerticalAlign: "middle" } });
  graphic.push({ type: "text", x: 590, y: 265, rotation: -Math.PI / 2, style: { text: "% contribution to NRV", fontSize: 10.5, fontFamily: FONT, fill: "#1a1a1a", textAlign: "center", textVerticalAlign: "middle" } });
  graphic.push({ type: "text", x: 360, y: 506, style: { text: "Total length (cm)", fontSize: 10, fontFamily: FONT, fill: "#1a1a1a", textAlign: "center", textVerticalAlign: "middle" } });

  return {
    animation: false,
    backgroundColor: "#ffffff",
    textStyle: { fontFamily: FONT },
    grid, xAxis, yAxis, series, graphic,
  };
}

export default function App() {
  const ref = useRef<HTMLDivElement>(null);
  useEffect(() => {
    if (!ref.current) return;
    const chart = echarts.init(ref.current, undefined, { renderer: "svg" });
    chart.setOption(buildOption() as any);
    return () => chart.dispose();
  }, []);
  return <div ref={ref} style={{ position: "absolute", left: 0, top: 0, width: 798, height: 514 }} />;
}
